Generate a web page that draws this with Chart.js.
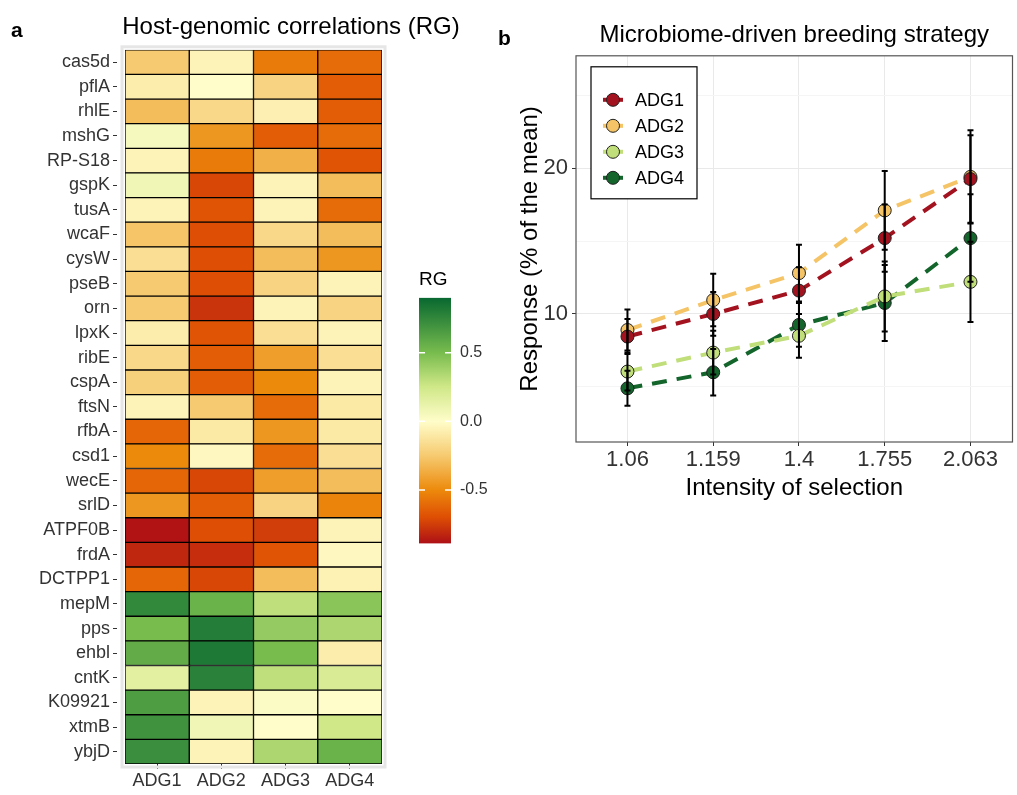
<!DOCTYPE html>
<html>
<head>
<meta charset="utf-8">
<script src="https://cdn.jsdelivr.net/npm/chart.js@4.4.0/dist/chart.umd.min.js"></script>
<style>
  body { margin: 0; background: #fff; width: 1017px; height: 795px; overflow: hidden; position: relative; }
  canvas { position: absolute; }
  .tag { position: absolute; font-family: "Liberation Sans", Arial, sans-serif; font-weight: bold; font-size: 21px; line-height: 21px; }
</style>
</head>
<body>
<canvas id="heat" width="582" height="795" style="left:0;top:0"></canvas>
<canvas id="bar" width="81" height="294" style="left:419px;top:268px"></canvas>
<canvas id="resp" width="520" height="510" style="left:500px;top:0"></canvas>
<div class="tag" style="left:11px;top:19px">a</div>
<div class="tag" style="left:498px;top:27px">b</div>

<script>
// ---- panel a: host-genomic correlations ----
const GENES = ['cas5d','pflA','rhlE','mshG','RP-S18','gspK','tusA','wcaF','cysW','pseB','orn','lpxK','ribE','cspA','ftsN',
  'rfbA','csd1','wecE','srlD','ATPF0B','frdA','DCTPP1','mepM','pps','ehbl','cntK','K09921','xtmB','ybjD'];
const ADG_NAMES = ['ADG1','ADG2','ADG3','ADG4'];
const RG_ADG1 = [-0.25,-0.08,-0.3,0.05,-0.05,0.08,-0.05,-0.27,-0.15,-0.25,-0.25,-0.08,-0.18,-0.22,-0.05,
  -0.62,-0.5,-0.62,-0.45,-0.88,-0.82,-0.62,0.75,0.5,0.58,0.15,0.65,0.7,0.72];
const RG_ADG2 = [-0.05,0.0,-0.18,-0.45,-0.55,-0.72,-0.68,-0.7,-0.7,-0.7,-0.78,-0.68,-0.65,-0.65,-0.25,
  -0.1,-0.03,-0.72,-0.65,-0.7,-0.8,-0.72,0.55,0.8,0.82,0.78,-0.05,0.08,-0.05];
const RG_ADG3 = [-0.55,-0.2,-0.07,-0.65,-0.35,-0.05,-0.05,-0.18,-0.3,-0.2,-0.05,-0.15,-0.42,-0.5,-0.6,
  -0.45,-0.6,-0.42,-0.2,-0.75,-0.68,-0.3,0.3,0.42,0.5,0.3,0.02,0.0,0.35];
const RG_ADG4 = [-0.6,-0.65,-0.65,-0.6,-0.68,-0.3,-0.6,-0.3,-0.45,-0.05,-0.2,-0.05,-0.15,-0.05,-0.1,
  -0.1,-0.15,-0.3,-0.52,-0.05,-0.03,-0.06,0.45,0.35,-0.08,0.2,0.0,0.25,0.55];
const RG_MIN = -0.89, RG_MAX = 0.90;
const RG_TICKS = [-0.5, 0, 0.5];

// ---- panel b: response to selection ----
const INTENSITY = ['1.06','1.159','1.4','1.755','2.063'];
const RESP_ADG1 = [8.45, 10.0, 11.6, 15.2, 19.25];
const RESP_ADG2 = [8.9, 10.95, 12.8, 17.1, 19.4];
const RESP_ADG3 = [6.05, 7.35, 8.5, 11.2, 12.2];
const RESP_ADG4 = [4.9, 6.0, 9.25, 10.75, 15.2];
const SE_ADG1 = [1.2, 1.5, 1.6, 2.3, 3.0];
const SE_ADG2 = [1.4, 1.8, 1.95, 2.7, 3.2];
const SE_ADG3 = [1.3, 1.5, 1.5, 2.4, 2.75];
const SE_ADG4 = [1.2, 1.6, 1.5, 2.6, 3.0];
const RESP_GRID = [5, 10, 15, 20, 25];
const RESP_TICKS = [10, 20];

const RESP_COLOURS = ['#a3121f', '#f4c466', '#c0de7a', '#14652c'];
const FONT = '"Liberation Sans", Arial, sans-serif';

Chart.defaults.font.family = FONT;
Chart.defaults.color = '#333';
Chart.defaults.animation = false;

// fill scale for RG (red -> orange -> pale yellow -> green)
const RAMP = [
  [-0.89, 174, 16, 22],
  [-0.7, 222, 78, 4],
  [-0.5, 236, 138, 12],
  [-0.25, 246, 202, 112],
  [0, 255, 253, 202],
  [0.25, 208, 232, 136],
  [0.5, 120, 188, 78],
  [0.9, 8, 104, 48]
];
function rgColour(v) {
  if (v <= RAMP[0][0]) return 'rgb(' + RAMP[0].slice(1).join(',') + ')';
  for (let i = 1; i < RAMP.length; i++) {
    if (v <= RAMP[i][0]) {
      const a = RAMP[i - 1], b = RAMP[i], t = (v - a[0]) / (b[0] - a[0]);
      return 'rgb(' + [1, 2, 3].map(k => Math.round(a[k] + (b[k] - a[k]) * t)).join(',') + ')';
    }
  }
  return 'rgb(' + RAMP[RAMP.length - 1].slice(1).join(',') + ')';
}

const framePlugin = {
  id: 'frame',
  afterDraw(chart, args, opts) {
    const a = chart.chartArea, c = chart.ctx, p = opts.pad || 0;
    c.save();
    c.strokeStyle = opts.color;
    c.lineWidth = opts.width;
    c.strokeRect(a.left - p, a.top - p, a.right - a.left + 2 * p, a.bottom - a.top + 2 * p);
    c.restore();
  }
};

// heatmap: one floating horizontal bar per cell
new Chart(document.getElementById('heat'), {
  type: 'bar',
  data: {
    labels: GENES,
    datasets: [RG_ADG1, RG_ADG2, RG_ADG3, RG_ADG4].map((vals, i) => ({
      label: ADG_NAMES[i],
      data: vals.map(() => [i, i + 1]),
      backgroundColor: vals.map(rgColour),
      borderColor: '#000',
      borderWidth: 1,
      borderSkipped: false,
      grouped: false,
      barPercentage: 1,
      categoryPercentage: 1
    }))
  },
  options: {
    indexAxis: 'y',
    responsive: false,
    layout: { padding: { left: 0, right: 0, top: 0, bottom: 2 } },
    plugins: {
      legend: { display: false },
      tooltip: { enabled: false },
      title: { display: true, text: 'Host-genomic correlations (RG)', color: '#000',
        font: { size: 24, weight: 'normal' }, padding: { top: 13, bottom: 8 } },
      frame: { color: '#e6e6e6', width: 3, pad: 3 }
    },
    scales: {
      x: { type: 'linear', min: 0, max: 4, display: false },
      x2: {
        type: 'category', labels: ADG_NAMES, offset: true, position: 'bottom',
        grid: { drawOnChartArea: false, offset: false, tickLength: 5, tickColor: '#333' },
        border: { display: false },
        ticks: { font: { size: 18, lineHeight: 1 }, color: '#333', padding: 3 }
      },
      y: {
        type: 'category', offset: true,
        afterFit: s => { s.width = 125; },
        grid: { drawOnChartArea: false, offset: false, tickLength: 12, tickColor: '#333', tickBorderDash: [4, 100] },
        border: { display: false },
        ticks: { font: { size: 18, lineHeight: 1 }, color: '#333', padding: 3, autoSkip: false }
      },
      yR: {
        type: 'category', position: 'right', labels: GENES,
        grid: { display: false }, border: { display: false }, ticks: { display: false },
        afterFit: s => { s.width = 200; }
      }
    }
  },
  plugins: [framePlugin]
});

// small white tick marks across the colour bar
const barTicks = {
  id: 'barTicks',
  afterDatasetsDraw(chart) {
    const c = chart.ctx, a = chart.chartArea, y = chart.scales.y;
    c.save();
    c.strokeStyle = '#fff';
    c.lineWidth = 1.5;
    RG_TICKS.forEach(v => {
      const py = y.getPixelForValue(v);
      c.beginPath();
      c.moveTo(a.left, py); c.lineTo(a.left + 6, py);
      c.moveTo(a.right - 6, py); c.lineTo(a.right, py);
      c.stroke();
    });
    c.restore();
  }
};

// colour bar legend
new Chart(document.getElementById('bar'), {
  type: 'bar',
  data: {
    labels: ['RG'],
    datasets: [{
      data: [[RG_MIN, RG_MAX]],
      backgroundColor: ctx => {
        const ch = ctx.chart;
        if (!ch.chartArea) return null;
        const y = ch.scales.y;
        const g = ch.ctx.createLinearGradient(0, y.getPixelForValue(RG_MIN), 0, y.getPixelForValue(RG_MAX));
        RAMP.forEach(s => {
          const t = Math.min(1, Math.max(0, (s[0] - RG_MIN) / (RG_MAX - RG_MIN)));
          g.addColorStop(t, rgColour(s[0]));
        });
        return g;
      },
      borderWidth: 0,
      barPercentage: 1,
      categoryPercentage: 1
    }]
  },
  options: {
    responsive: false,
    layout: { padding: { left: 0, right: 0, top: 0, bottom: 10 } },
    plugins: {
      legend: { display: false },
      tooltip: { enabled: false },
      title: { display: true, text: 'RG', align: 'start', color: '#000',
        font: { size: 19, weight: 'normal' }, padding: { top: 0, bottom: 7 } }
    },
    scales: {
      x: { display: false },
      y: {
        position: 'right', min: RG_MIN, max: RG_MAX,
        afterBuildTicks: s => { s.ticks = RG_TICKS.map(v => ({ value: v })); },
        afterFit: s => { s.width = 49; },
        grid: { display: false, drawTicks: false },
        border: { display: false },
        ticks: { padding: 9, font: { size: 16 }, color: '#333', callback: v => v.toFixed(1) }
      }
    }
  },
  plugins: [barTicks]
});

// error bars for panel b
const errorBars = {
  id: 'errorBars',
  afterDatasetsDraw(chart) {
    const c = chart.ctx, xs = chart.scales.x, ys = chart.scales.y;
    c.save();
    c.strokeStyle = '#000';
    c.lineWidth = 2;
    chart.data.datasets.forEach(ds => {
      ds.data.forEach((p, i) => {
        const x = xs.getPixelForValue(p.x);
        const lo = ys.getPixelForValue(p.y - ds.se[i]);
        const hi = ys.getPixelForValue(p.y + ds.se[i]);
        c.beginPath();
        c.moveTo(x, lo); c.lineTo(x, hi);
        c.moveTo(x - 3, lo); c.lineTo(x + 3, lo);
        c.moveTo(x - 3, hi); c.lineTo(x + 3, hi);
        c.stroke();
      });
    });
    c.restore();
  }
};

// boxed legend inside the plot panel
const boxLegend = {
  id: 'boxLegend',
  afterDraw(chart) {
    const c = chart.ctx, a = chart.chartArea;
    const x0 = a.left + 15, y0 = a.top + 11;
    c.save();
    c.fillStyle = '#fff';
    c.fillRect(x0, y0, 106, 132);
    c.strokeStyle = '#000';
    c.lineWidth = 1.2;
    c.strokeRect(x0, y0, 106, 132);
    c.font = '18px ' + FONT;
    c.textBaseline = 'middle';
    chart.data.datasets.forEach((ds, i) => {
      const y = y0 + 33 + i * 26;
      c.strokeStyle = ds.borderColor;
      c.lineWidth = 4;
      c.beginPath(); c.moveTo(x0 + 12, y); c.lineTo(x0 + 32, y); c.stroke();
      c.beginPath(); c.arc(x0 + 22, y, 6.5, 0, 2 * Math.PI);
      c.fillStyle = ds.pointBackgroundColor; c.fill();
      c.strokeStyle = '#222'; c.lineWidth = 1; c.stroke();
      c.fillStyle = '#000';
      c.fillText(ds.label, x0 + 44, y + 1);
    });
    c.restore();
  }
};

const respSeries = [RESP_ADG1, RESP_ADG2, RESP_ADG3, RESP_ADG4];
const respSe = [SE_ADG1, SE_ADG2, SE_ADG3, SE_ADG4];

new Chart(document.getElementById('resp'), {
  type: 'line',
  data: {
    datasets: respSeries.map((vals, i) => ({
      label: ADG_NAMES[i],
      data: vals.map((v, j) => ({ x: j, y: v })),
      se: respSe[i],
      borderColor: RESP_COLOURS[i],
      borderWidth: 4,
      borderDash: [15, 10],
      pointBackgroundColor: RESP_COLOURS[i],
      pointBorderColor: '#222',
      pointBorderWidth: 1,
      pointRadius: 6.5,
      fill: false,
      tension: 0
    }))
  },
  options: {
    responsive: false,
    layout: { padding: { left: 0, right: 0, top: 0, bottom: 10 } },
    plugins: {
      legend: { display: false },
      tooltip: { enabled: false },
      title: { display: true, fullSize: false, text: 'Microbiome-driven breeding strategy', color: '#000',
        font: { size: 24, weight: 'normal' }, padding: { top: 21, bottom: 6 } },
      frame: { color: '#555', width: 1.2, pad: 0 }
    },
    scales: {
      x: {
        type: 'linear', min: -0.6, max: 4.49,
        afterBuildTicks: s => { s.ticks = INTENSITY.map((_, i) => ({ value: i })); },
        grid: { color: '#e9e9e9', tickColor: '#333', tickLength: 4 },
        border: { display: false },
        ticks: { font: { size: 22, lineHeight: 1 }, color: '#333', padding: 3, maxRotation: 0, autoSkip: false,
          callback: v => INTENSITY[v] },
        title: { display: true, text: 'Intensity of selection', color: '#000',
          font: { size: 24, lineHeight: 1 }, padding: { top: 2, bottom: 0 } }
      },
      y: {
        min: 1.22, max: 27.7,
        afterBuildTicks: s => { s.ticks = RESP_GRID.map(v => ({ value: v })); },
        afterFit: s => { s.width = 76; },
        grid: {
          color: c => (c.tick && RESP_TICKS.includes(c.tick.value)) ? '#e9e9e9' : '#f5f5f5',
          tickColor: c => (c.tick && RESP_TICKS.includes(c.tick.value)) ? '#333' : 'rgba(0,0,0,0)',
          tickLength: 4
        },
        border: { display: false },
        ticks: { font: { size: 22 }, color: '#333', padding: 4,
          callback: v => RESP_TICKS.includes(v) ? String(v) : '' },
        title: { display: true, text: 'Response (% of the mean)', color: '#000',
          font: { size: 24, lineHeight: 1 }, padding: { top: 18, bottom: 0 } }
      }
    }
  },
  plugins: [framePlugin, errorBars, boxLegend]
});
</script>
</body>
</html>
